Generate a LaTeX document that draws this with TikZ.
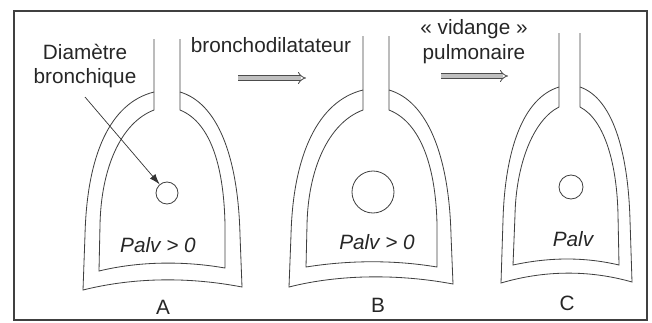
\documentclass[tikz,border=0pt]{standalone}
\usepackage{fontspec}
\setmainfont{Liberation Sans}
\usetikzlibrary{arrows.meta}

\tikzset{
  paroi/.style={draw=black!75, line width=0.7pt},
  bronche/.style={circle, draw=black!75, line width=0.7pt, inner sep=0pt},
  texte/.style={font=\fontsize{17.7}{21.3}\selectfont, text=black!85, inner sep=0pt},
  pression/.style={texte, font=\fontsize{17.7}{21.3}\selectfont\itshape},
  etape/.style={draw=black!70, line width=0.7pt, double=gray!50, double distance=2.9pt, -{Implies}}
}

\begin{document}
\begin{tikzpicture}[x=0.03cm, y=-0.03cm]
  \useasboundingbox (0,0) rectangle (652,322);
  \draw[black!75, line width=1.2pt] (14,11) rectangle (647,320);

  % poumon A
  \draw[paroi] (154,92) .. controls (110,103) and (87,155) .. (85,235) -- (83,290)
    .. controls (135,277) and (190,277) .. (242,287) -- (240,235)
    .. controls (238,155) and (217,103) .. (180,92);
  \draw[paroi] (154,39) -- (154,110) .. controls (120,123) and (101,170) .. (100,225) -- (99,271)
    .. controls (140,261) and (185,261) .. (225,268) -- (225,225)
    .. controls (224,170) and (212,123) .. (180,110) -- (180,39);
  \node[bronche, minimum size=22*0.03cm] (brA) at (167,193) {};
  \node[pression] (palvA) at (158,245) {Palv > 0};
  \node[texte] (A) at (163,307) {A};

  % poumon B
  \draw[paroi] (363,90) .. controls (318,101) and (293,155) .. (291,235) -- (289,287)
    .. controls (340,274) and (400,274) .. (453,284) -- (451,235)
    .. controls (449,155) and (427,101) .. (389,90);
  \draw[paroi] (363,36) -- (363,110) .. controls (328,123) and (308,170) .. (307,225) -- (306,267)
    .. controls (350,260) and (395,260) .. (437,267) -- (437,225)
    .. controls (436,170) and (422,123) .. (389,110) -- (389,36);
  \node[bronche, minimum size=42*0.03cm] (brB) at (373,192) {};
  \node[pression] (palvB) at (377,242) {Palv > 0};
  \node[texte] (B) at (378,305) {B};

  % poumon C
  \draw[paroi] (559,87) .. controls (523,98) and (505,150) .. (503,220) -- (501,283)
    .. controls (545,270) and (590,270) .. (632,282) -- (630,220)
    .. controls (628,150) and (612,98) .. (580,87);
  \draw[paroi] (559,33) -- (559,107) .. controls (533,120) and (516,165) .. (515,215) -- (513,265)
    .. controls (550,257) and (585,257) .. (619,265) -- (618,215)
    .. controls (617,165) and (605,120) .. (580,107) -- (580,33);
  \node[bronche, minimum size=24*0.03cm] (brC) at (571,187) {};
  \node[pression] (palvC) at (573,239) {Palv};
  \node[texte] (C) at (567,303) {C};

  % legendes et passages
  \node[texte, align=center] (diam) at (85,66) {Diamètre\\bronchique};
  \draw[black!80, line width=0.6pt, -{Latex[length=9pt, width=6pt]}] (85,97) -- (brA);

  \node[texte] (dilat) at (271,45) {bronchodilatateur};
  \coordinate (d1) at (238,78);
  \coordinate (d2) at (306,78);
  \draw[etape] (d1) -- (d2);

  \node[texte, align=center] (vidange) at (474,41.5) {«~vidange~»\\pulmonaire};
  \coordinate (v1) at (441,76);
  \coordinate (v2) at (508,76);
  \draw[etape] (v1) -- (v2);
\end{tikzpicture}
\end{document}
